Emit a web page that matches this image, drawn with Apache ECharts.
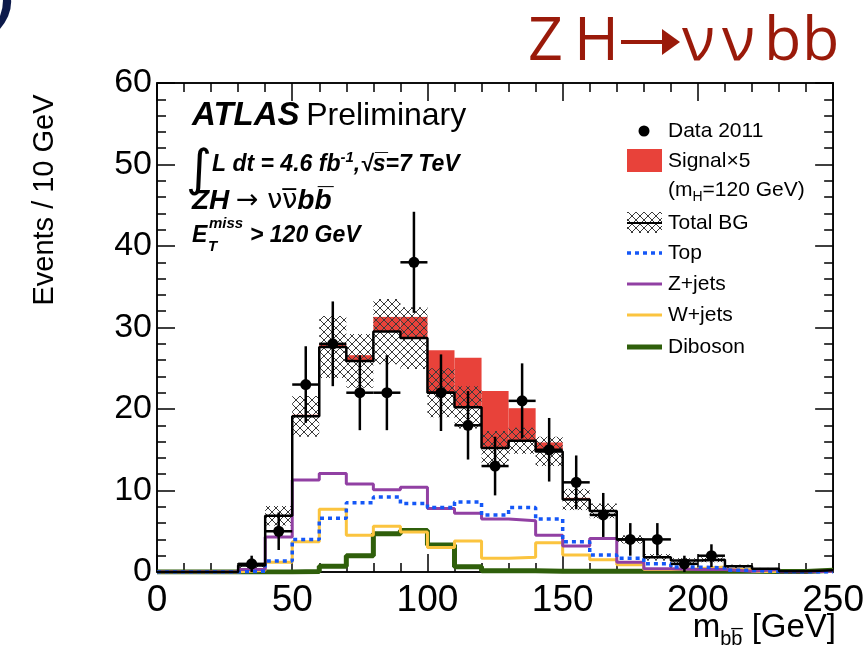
<!DOCTYPE html>
<html><head><meta charset="utf-8">
<script src="https://cdn.jsdelivr.net/npm/echarts@6/dist/echarts.min.js"></script>
<style>html,body{margin:0;padding:0;background:#fff}#c{width:867px;height:655px}</style>
</head><body><div id="c"></div>
<script>
// ---- data (10 GeV bins, lower edges) ----
const binLow   = [0,10,20,30,40,50,60,70,80,90,100,110,120,130,140,150,160,170,180,190,200,210,220,230,240];
const binWidth = 10;
const dataVals = [null,null,null,1,5,23,28,22,22,38,22,18,13,21,15,11,7,4,4,1,2,null,null,null,null];
const dataErr  = [0,0,0,1.0,2.3,4.7,5.2,4.6,4.6,6.2,4.7,4.2,3.6,4.6,3.9,3.3,2.7,2.0,2.0,1.0,1.4,0,0,0,0];
const totalBG  = [0,0,0,0.8,6.9,19.1,27.6,25.9,29.5,28.7,22.0,20.2,15.2,16.1,14.8,8.9,7.5,4.0,1.8,1.4,1.5,0.7,0.4,0.1,0.2];
const bgErr    = [0,0,0,0.3,1.2,2.5,3.8,3.3,4.0,3.8,3.0,2.6,2.1,1.6,1.8,1.3,0.9,0.5,0.4,0.3,0.3,0.2,0.1,0.05,0.1];
const signalX5 = [0,0,0,0,0.05,0.2,0.4,0.7,1.8,2.6,5.2,6.1,7.0,4.0,1.1,0.2,0.1,0.05,0,0,0,0,0,0,0];
const topBG    = [0,0,0,0.1,1.35,4.0,6.6,8.5,9.2,8.4,7.9,8.6,7.0,7.9,6.5,3.7,2.1,1.7,1.0,0.6,0.5,0.2,0.05,0,0];
const zjets    = [0,0,0,0.3,4.3,11.3,12.1,10.8,10.1,10.4,7.8,7.2,6.5,6.3,4.5,3.2,4.1,1.2,0.4,0.3,0.3,0.1,0.3,0,0.1];
const wjets    = [0,0,0,0.2,1.2,3.7,7.7,4.5,5.6,4.9,3.0,3.8,1.7,1.8,3.6,2.1,1.5,0.9,0.3,0.4,0.6,0.3,0.05,0.05,0.1];
const diboson  = [0,0,0,0,0,0.05,0.7,2.0,4.7,5.1,3.3,0.65,0.15,0.15,0.1,0.1,0.1,0.1,0.1,0.1,0.1,0.1,0.05,0.05,0.2];
const xTicks = [0,50,100,150,200,250];
const yTicks = [0,10,20,30,40,50,60];
const titleChars = ['Z','H','ν','ν','b','b'];

const FONT = '"Liberation Sans", Arial, Helvetica, sans-serif';
const RED = '#e8423a', PURPLE = '#9140a3', BLUE = '#1457f7', YELLOW = '#fbc43f', GREEN = '#2f5f0b';
const TITLE_COLOR = '#9a1a0a';

function makeHatch(){
  const n = 8;
  const c = document.createElement('canvas'); c.width = c.height = n;
  const g = c.getContext('2d');
  g.strokeStyle = '#3a3a3a'; g.lineWidth = 1;
  g.beginPath(); g.moveTo(0,0); g.lineTo(n,n); g.moveTo(n,0); g.lineTo(0,n); g.stroke();
  return c;
}
const hatch = {image: makeHatch(), repeat: 'repeat'};

function stepData(vals){
  const d = binLow.map((x,i)=>[x, vals[i]]);
  d.push([binLow[binLow.length-1]+binWidth, vals[vals.length-1]]);
  return d;
}
function stepLine(name, vals, color, width, type, z){
  return {name, type:'line', step:'end', data: stepData(vals), symbol:'none', z,
    lineStyle:{color, width, type: type||'solid', cap:'butt'}, animation:false, clip:true};
}
function rectSeries(rows, style, z){
  return {type:'custom', z, clip:true, animation:false, data: rows, encode:{x:[0,1], y:[2,3]},
    renderItem(params, api){
      const p0 = api.coord([api.value(0), api.value(3)]);
      const p1 = api.coord([api.value(1), api.value(2)]);
      return {type:'rect', shape:{x:p0[0], y:p0[1], width:p1[0]-p0[0], height:p1[1]-p0[1]}, style};
    }};
}
const sigRows = binLow.map((x,i)=>[x, x+binWidth, totalBG[i], totalBG[i]+signalX5[i]]).filter(r=>r[3]>r[2]);
const bandRows = binLow.map((x,i)=>[x, x+binWidth, Math.max(0,totalBG[i]-bgErr[i]), totalBG[i]+bgErr[i]]).filter(r=>r[3]>r[2]);
const ptRows = binLow.map((x,i)=>[x+binWidth/2, dataVals[i], dataErr[i]]).filter(r=>r[1]!=null);

function axisCommon(){ return {
  axisLine:{show:true, onZero:false, lineStyle:{color:'#000', width:1.5}},
  axisTick:{show:true, inside:true, length:18, lineStyle:{color:'#000', width:1.5}},
  minorTick:{show:true, splitNumber:5, length:9, lineStyle:{color:'#000', width:1.5}},
  splitLine:{show:false}, minorSplitLine:{show:false}
};}
const xBase = {type:'value', min:xTicks[0], max:xTicks[xTicks.length-1], interval:xTicks[1]-xTicks[0]};
const yBase = {type:'value', min:yTicks[0], max:yTicks[yTicks.length-1], interval:yTicks[1]-yTicks[0]};

const titleX = [528, 574, 682, 722, 764, 802];
const graphics = [
  {type:'text', left:-7, top:-14, style:{text:')', font:'italic bold 50px "DejaVu Sans", sans-serif', fill:'#0d1a4a'}},
  {type:'line', shape:{x1:621, y1:42, x2:664, y2:42}, style:{stroke:TITLE_COLOR, lineWidth:4}},
  {type:'polygon', shape:{points:[[662,29],[680,42],[662,55]]}, style:{fill:TITLE_COLOR}},
  {type:'text', x:45, y:200, rotation:Math.PI/2, style:{text:'Events / 10 GeV', font:'29px '+FONT, fill:'#000', align:'center', verticalAlign:'middle'}},
  {type:'text', x:836, y:628, style:{
    text:'{m|m}{s|bb\u0305}{m| [GeV]}', align:'right', verticalAlign:'middle',
    rich:{m:{fontSize:33, fontFamily:FONT, fill:'#000'}, s:{fontSize:20, fontFamily:FONT, fill:'#000', padding:[22,0,0,0]}}}},
  {type:'text', x:192, y:116, style:{text:'{a|ATLAS}  {p|Preliminary}', verticalAlign:'middle',
    rich:{a:{fontSize:33, fontWeight:'bold', fontStyle:'italic', fontFamily:FONT, fill:'#000'},
          p:{fontSize:32, fontFamily:FONT, fill:'#000'}}}},
  {type:'text', x:186, y:172, style:{text:'∫', font:'italic 50px "DejaVu Sans", sans-serif', fill:'#000', verticalAlign:'middle'}},
  {type:'text', x:212, y:165, style:{text:'{b|L dt = 4.6 fb}{u|-1}{b|,√s\u0305=7 TeV}', verticalAlign:'middle',
    rich:{b:{fontSize:23, fontWeight:'bold', fontStyle:'italic', fontFamily:FONT, fill:'#000'},
          u:{fontSize:15, fontWeight:'bold', fontStyle:'italic', fontFamily:FONT, fill:'#000', padding:[0,0,14,0]}}}},
  {type:'text', x:192, y:201, style:{text:'{b|ZH}  {r|→ νν\u0305}{b|bb\u0305}', verticalAlign:'middle',
    rich:{b:{fontSize:28, fontWeight:'bold', fontStyle:'italic', fontFamily:FONT, fill:'#000'},
          r:{fontSize:27, fontFamily:'"DejaVu Sans", sans-serif', fill:'#000'}}}},
  {type:'text', x:192, y:236, style:{text:'E', font:'italic bold 23px '+FONT, fill:'#000', verticalAlign:'middle'}},
  {type:'text', x:209, y:224, style:{text:'miss', font:'italic bold 15px '+FONT, fill:'#000', verticalAlign:'middle'}},
  {type:'text', x:208, y:247, style:{text:'T', font:'italic bold 15px '+FONT, fill:'#000', verticalAlign:'middle'}},
  {type:'text', x:250, y:236, style:{text:'> 120 GeV', font:'italic bold 23px '+FONT, fill:'#000', verticalAlign:'middle'}},
  // legend
  {type:'circle', shape:{cx:644, cy:131, r:5.5}, style:{fill:'#000'}},
  {type:'text', x:668, y:131, style:{text:'Data 2011', font:'21px '+FONT, fill:'#000', verticalAlign:'middle'}},
  {type:'rect', shape:{x:627, y:149, width:35, height:23}, style:{fill:RED}},
  {type:'text', x:668, y:161, style:{text:'Signal×5', font:'21px '+FONT, fill:'#000', verticalAlign:'middle'}},
  {type:'text', x:668, y:190, style:{text:'{n|(m}{s|H}{n|=120 GeV)}', verticalAlign:'middle',
    rich:{n:{fontSize:21, fontFamily:FONT, fill:'#000'}, s:{fontSize:14, fontFamily:FONT, fill:'#000', padding:[14,0,0,0]}}}},
  {type:'rect', shape:{x:627, y:212, width:35, height:21}, style:{fill:hatch}},
  {type:'line', shape:{x1:627, y1:223, x2:662, y2:223}, style:{stroke:'#000', lineWidth:2}},
  {type:'text', x:668, y:223, style:{text:'Total BG', font:'21px '+FONT, fill:'#000', verticalAlign:'middle'}},
  {type:'line', shape:{x1:627, y1:253, x2:662, y2:253}, style:{stroke:BLUE, lineWidth:3.5, lineDash:[4,4]}},
  {type:'text', x:668, y:253, style:{text:'Top', font:'21px '+FONT, fill:'#000', verticalAlign:'middle'}},
  {type:'line', shape:{x1:627, y1:284, x2:662, y2:284}, style:{stroke:PURPLE, lineWidth:3}},
  {type:'text', x:668, y:284, style:{text:'Z+jets', font:'21px '+FONT, fill:'#000', verticalAlign:'middle'}},
  {type:'line', shape:{x1:627, y1:315, x2:662, y2:315}, style:{stroke:YELLOW, lineWidth:3}},
  {type:'text', x:668, y:315, style:{text:'W+jets', font:'21px '+FONT, fill:'#000', verticalAlign:'middle'}},
  {type:'line', shape:{x1:627, y1:347, x2:662, y2:347}, style:{stroke:GREEN, lineWidth:5}},
  {type:'text', x:668, y:347, style:{text:'Diboson', font:'21px '+FONT, fill:'#000', verticalAlign:'middle'}}
];
titleChars.forEach((ch,i)=>{
  graphics.push({type:'text', x:titleX[i], y:43, style:{text:ch, font:'61px "Open Sans", "DejaVu Sans", sans-serif', fill:TITLE_COLOR, verticalAlign:'middle'}});
});

const chart = echarts.init(document.getElementById('c'));
chart.setOption({
  backgroundColor:'#fff', animation:false,
  grid:{left:157, top:83, right:31, bottom:83, show:true, borderColor:'#000', borderWidth:1.5, backgroundColor:'transparent'},
  xAxis:[
    Object.assign({}, xBase, axisCommon(), {position:'bottom',
      axisLabel:{fontSize:37, color:'#000', fontFamily:FONT, margin:10}}),
    Object.assign({}, xBase, axisCommon(), {position:'top', axisLabel:{show:false}})
  ],
  yAxis:[
    Object.assign({}, yBase, axisCommon(), {position:'left',
      axisLabel:{fontSize:34, color:'#000', fontFamily:FONT, margin:5}}),
    Object.assign({}, yBase, axisCommon(), {position:'right', axisLabel:{show:false}})
  ],
  series:[
    {type:'line', xAxisIndex:1, yAxisIndex:1, data:[], silent:true},
    rectSeries(sigRows, {fill:RED}, 1),
    rectSeries(bandRows, {fill:hatch}, 2),
    stepLine('Diboson', diboson, GREEN, 5, 'solid', 3),
    stepLine('W+jets', wjets, YELLOW, 3, 'solid', 3),
    stepLine('Z+jets', zjets, PURPLE, 3, 'solid', 3),
    stepLine('Top', topBG, BLUE, 3.5, [4,4], 3),
    stepLine('Total BG', totalBG, '#000', 2.5, 'solid', 4),
    {type:'custom', z:5, clip:true, animation:false, data: ptRows, encode:{x:0, y:1},
      renderItem(params, api){
        const x = api.value(0), y = api.value(1), e = api.value(2);
        const c = api.coord([x,y]), t = api.coord([x,y+e]), b = api.coord([x,Math.max(0,y-e)]);
        const l = api.coord([x-binWidth/2,y]), r = api.coord([x+binWidth/2,y]);
        const ls = {stroke:'#000', lineWidth:2.5};
        return {type:'group', children:[
          {type:'line', shape:{x1:c[0], y1:t[1], x2:c[0], y2:b[1]}, style:ls},
          {type:'line', shape:{x1:l[0], y1:c[1], x2:r[0], y2:c[1]}, style:ls},
          {type:'circle', shape:{cx:c[0], cy:c[1], r:5.5}, style:{fill:'#000'}}
        ]};
      }}
  ],
  graphic: graphics
});
</script></body></html>
